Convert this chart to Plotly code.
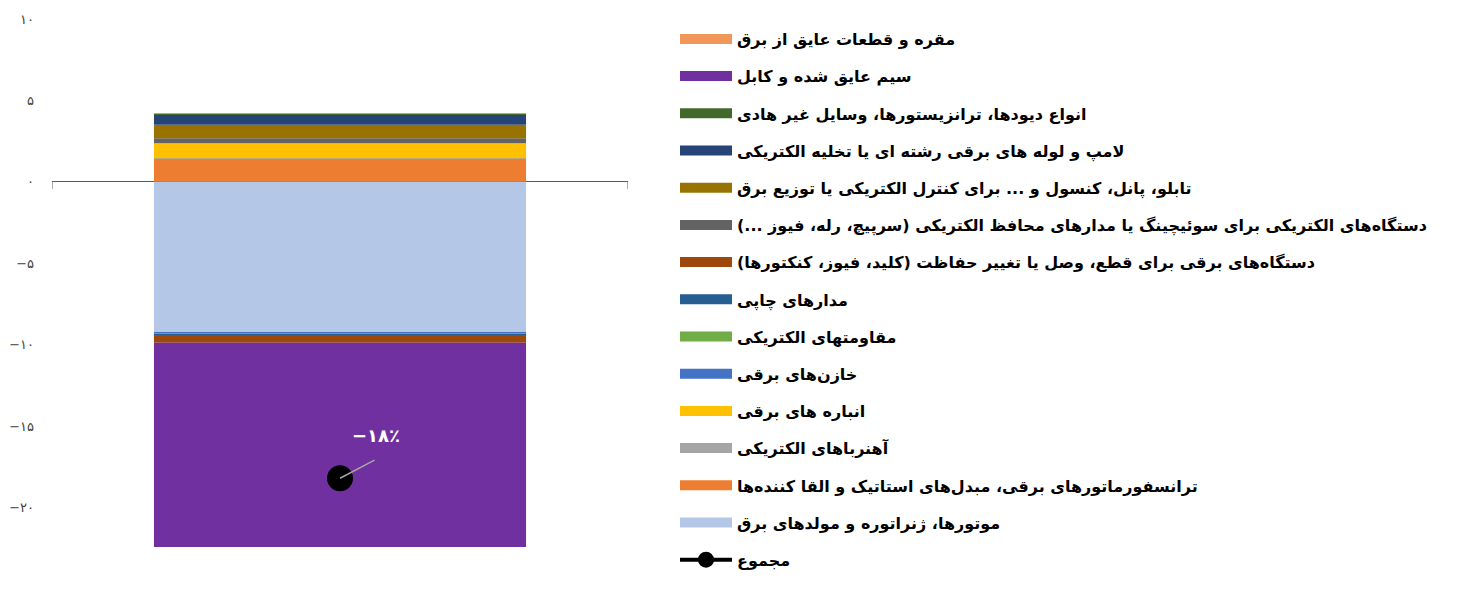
import plotly.graph_objects as go

# ---- data (series order as in the source workbook) ----
series_names = [
    "موتورها، ژنراتوره و مولدهای برق",
    "ترانسفورماتورهای برقی، مبدل‌های استاتیک و القا کننده‌ها",
    "آهنرباهای الکتریکی",
    "انباره های برقی",
    "خازن‌های برقی",
    "مقاومتهای الکتریکی",
    "مدارهای چاپی",
    "دستگاه‌های برقی برای قطع، وصل یا تغییر حفاظت (کلید، فیوز، کنکتورها)",
    "دستگاه‌های الکتریکی برای سوئیچینگ یا مدارهای محافظ الکتریکی (سرپیچ، رله، فیوز ...)",
    "تابلو، پانل، کنسول و ... برای کنترل الکتریکی یا توزیع برق",
    "لامپ و لوله های برقی رشته ای یا تخلیه الکتریکی",
    "انواع دیودها، ترانزیستورها، وسایل غیر هادی",
    "سیم عایق شده و کابل",
    "مقره و قطعات عایق از برق",
]
series_values = [-9.28, 1.44, 0.01, 0.92, -0.06, -0.06, -0.01, -0.47,
                 0.31, 0.82, 0.64, 0.04, -12.54, 0.04]
series_colors = ["#B4C7E7", "#ED7D31", "#A5A5A5", "#FFC000", "#4472C4",
                 "#70AD47", "#255E91", "#9E480E", "#636363", "#997300",
                 "#264478", "#43682B", "#7030A0", "#F1975A"]
total_name = "مجموع"
category = [0]
y_ticks = [-25, -20, -15, -10, -5, 0, 5, 10]
y_range = [-25, 10]
x_range = [-0.5, 0.5]

PERSIAN = str.maketrans("0123456789", "۰۱۲۳۴۵۶۷۸۹")


def fa_num(v):
    s = str(abs(int(round(v)))).translate(PERSIAN)
    return ("−" + s) if v < 0 else s


RLM = "\u200f"
FONT = "DejaVu Sans"

fig = go.Figure()

# stacked bars
for name, val, col in zip(series_names, series_values, series_colors):
    fig.add_trace(go.Bar(
        x=category, y=[val], name=name, marker=dict(color=col, line=dict(width=0)),
        showlegend=False, hoverinfo="name+y",
    ))

# legend entries (displayed in reverse series order)
n = len(series_names)
for rank, i in enumerate(reversed(range(n))):
    fig.add_trace(go.Scatter(
        x=[None], y=[None], mode="lines", name=RLM + series_names[i] + RLM,
        line=dict(color=series_colors[i], width=10),
        legendgroup="g%d" % rank, legendrank=rank + 1, hoverinfo="skip",
    ))

total = sum(series_values)
fig.add_trace(go.Scatter(
    x=category, y=[total], mode="lines+markers", name=total_name,
    line=dict(color="black", width=4),
    marker=dict(color="black", size=26),
    legendgroup="gtot", legendrank=100,
))

label = fa_num(total) + "٪"
fig.add_annotation(x=category[0], y=total, text="", showarrow=True,
                   arrowhead=0, arrowwidth=1.5, arrowcolor="#A6A6A6",
                   ax=36, ay=-19, standoff=0)
fig.add_annotation(x=category[0], y=total, text=label, showarrow=False,
                   xshift=36, yshift=43,
                   font=dict(family=FONT, size=18, color="white", weight="bold"))

# small category-boundary ticks under the zero line
for xv in x_range:
    fig.add_shape(type="line", xref="x", yref="y", x0=xv, x1=xv,
                  ysizemode="pixel", yanchor=0, y0=0, y1=-7,
                  line=dict(color="#595959", width=1))

fig.update_layout(
    width=1450, height=586,
    margin=dict(l=44, r=830, t=11, b=5, autoexpand=False),
    paper_bgcolor="white", plot_bgcolor="white",
    barmode="relative", bargap=0.354,
    font=dict(family=FONT),
    showlegend=True,
    legend=dict(
        x=(667 - 44) / 576, y=1 - 3 / 570, xanchor="left", yanchor="top",
        traceorder="grouped", tracegroupgap=13.4, itemwidth=52,
        font=dict(family=FONT, size=16, color="black", weight="bold"),
        bgcolor="rgba(0,0,0,0)",
    ),
    xaxis=dict(
        range=x_range, showline=False, showticklabels=False, ticks="",
        showgrid=False, zeroline=False, automargin=False,
    ),
    yaxis=dict(
        range=y_range, tickvals=y_ticks,
        ticktext=[fa_num(v) for v in y_ticks],
        showgrid=False, zeroline=True, zerolinecolor="#595959", zerolinewidth=1,
        showline=False, ticks="", automargin=False,
        ticklabelstandoff=17,
        tickfont=dict(family=FONT, size=13, color="#404040"),
    ),
)

fig.write_html("out.html")
